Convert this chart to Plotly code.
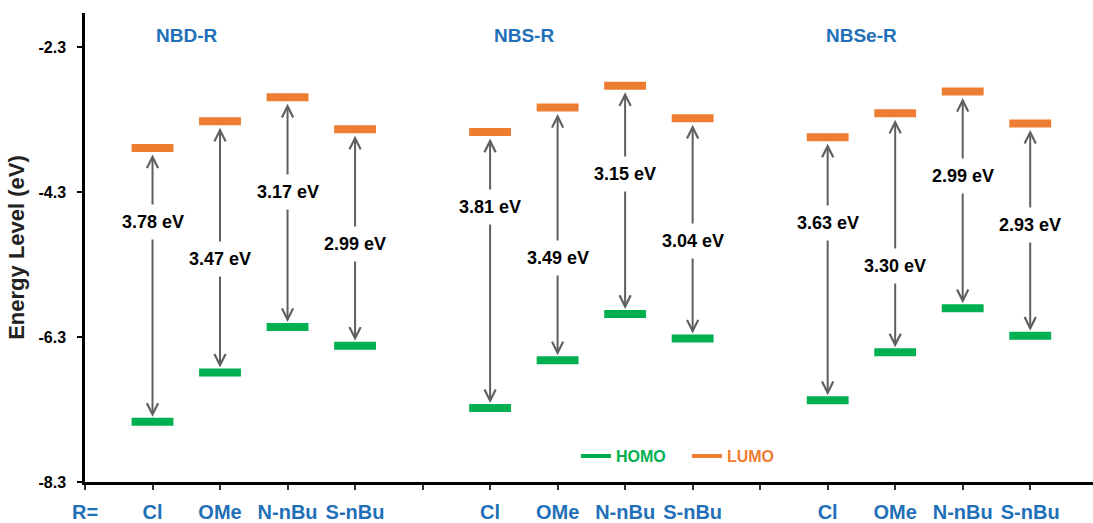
import plotly.graph_objects as go

# ---- data ----
groups = ["NBD-R", "NBS-R", "NBSe-R"]
substituents = ["Cl", "OMe", "N-nBu", "S-nBu"]
lumo = [[-3.69, -3.32, -2.99, -3.43],
        [-3.47, -3.13, -2.83, -3.28],
        [-3.54, -3.21, -2.91, -3.35]]
homo = [[-7.47, -6.79, -6.16, -6.42],
        [-7.28, -6.62, -5.98, -6.32],
        [-7.17, -6.51, -5.90, -6.28]]
gap_labels = [["3.78 eV", "3.47 eV", "3.17 eV", "2.99 eV"],
              ["3.81 eV", "3.49 eV", "3.15 eV", "3.04 eV"],
              ["3.63 eV", "3.30 eV", "2.99 eV", "2.93 eV"]]
label_energy = [[-4.71, -5.22, -4.30, -5.01],
                [-4.51, -5.21, -4.05, -4.97],
                [-4.72, -5.32, -4.08, -4.75]]
y_ticks = [-2.3, -4.3, -6.3, -8.3]

FONT = "Liberation Sans, Arial, sans-serif"
GREEN = "#00B050"
ORANGE = "#ED7D31"
BLUE = "#1F70B8"
GRAY = "#5F5F5F"
HALF = 0.31  # half width of a level marker in category units

fig = go.Figure()

positions = []
for g in range(len(groups)):
    for i in range(len(substituents)):
        positions.append((g, i, 1 + 5 * g + i))

def level_trace(values, color):
    xs, ys = [], []
    for g, i, p in positions:
        xs += [p - HALF, p + HALF, None]
        ys += [values[g][i], values[g][i], None]
    return go.Scatter(x=xs, y=ys, mode="lines", line=dict(color=color, width=8),
                      showlegend=False, hoverinfo="skip")

fig.add_trace(level_trace(lumo, ORANGE))
fig.add_trace(level_trace(homo, GREEN))

# legend-only traces
fig.add_trace(go.Scatter(x=[None], y=[None], mode="lines", line=dict(color=GREEN, width=4),
                         name=f'<span style="color:{GREEN}">HOMO</span>'))
fig.add_trace(go.Scatter(x=[None], y=[None], mode="lines", line=dict(color=ORANGE, width=4),
                         name=f'<span style="color:{ORANGE}">LUMO</span>'))

annotations = []
for g, i, p in positions:
    annotations.append(dict(
        x=p, y=homo[g][i], ax=p, ay=lumo[g][i], xref="x", yref="y", axref="x", ayref="y",
        text="", showarrow=True, arrowside="end+start", arrowhead=5, startarrowhead=5,
        arrowsize=1.1, startarrowsize=1.1, arrowwidth=2, arrowcolor=GRAY,
        standoff=5, startstandoff=5))
for g, i, p in positions:
    annotations.append(dict(
        x=p, y=label_energy[g][i], xref="x", yref="y", text=gap_labels[g][i],
        showarrow=False, bgcolor="white", borderpad=7,
        font=dict(family=FONT, size=18, color="black", weight="bold")))
for g, name in enumerate(groups):
    annotations.append(dict(
        x=1.5 + 5 * g, y=0.979, xref="x", yref="paper", text=name, showarrow=False,
        font=dict(family=FONT, size=19, color=BLUE, weight="bold")))

tickvals = [0] + [p for _, _, p in positions] + [5, 10]
ticktext = ["R="] + [substituents[i] for _, i, _ in positions] + ["", ""]

fig.update_layout(
    width=1093, height=523,
    margin=dict(l=85, r=0, t=13, b=39),
    plot_bgcolor="white", paper_bgcolor="white",
    annotations=annotations,
    showlegend=True,
    legend=dict(orientation="h", x=0.487, y=0.055, xanchor="left", yanchor="middle",
                bgcolor="rgba(0,0,0,0)", font=dict(family=FONT, size=16, weight="bold"),
                entrywidth=66, tracegroupgap=0),
    xaxis=dict(range=[0, 14.93], showgrid=False, zeroline=False, showline=True,
               linecolor="black", linewidth=2.5, ticks="outside", ticklen=5, tickwidth=2,
               tickcolor="#333333", tickvals=tickvals, ticktext=ticktext,
               ticklabelstandoff=5,
               tickfont=dict(family=FONT, size=20, color=BLUE, weight="bold")),
    yaxis=dict(range=[-8.3, -1.826], showgrid=False, zeroline=False, showline=True,
               linecolor="black", linewidth=2.5, ticks="outside", ticklen=5, tickwidth=2,
               tickcolor="black", tickvals=y_ticks, ticktext=[str(v) for v in y_ticks],
               ticklabelstandoff=8,
               tickfont=dict(family=FONT, size=16, color="black", weight="bold")),
)
fig.update_yaxes(title=dict(text="Energy Level (eV)", standoff=8,
                            font=dict(family=FONT, size=22, color="#222222", weight="bold")))

fig.write_html("out.html")
